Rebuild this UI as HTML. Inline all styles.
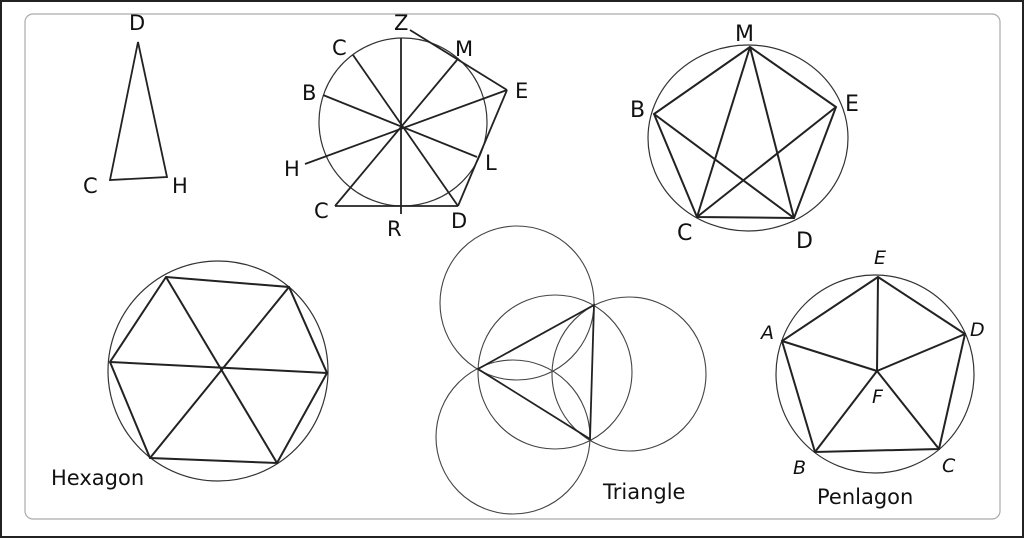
<!DOCTYPE html>
<html><head><meta charset="utf-8"><style>
html,body{margin:0;padding:0;background:#fff;}
svg{display:block;}
text{font-family:"DejaVu Sans","Liberation Sans",sans-serif;fill:#111;}
</style></head><body>
<svg width="1024" height="538" viewBox="0 0 1024 538" xmlns="http://www.w3.org/2000/svg">
<rect x="1" y="1" width="1022" height="536" fill="#fff" stroke="#222" stroke-width="2"/>
<rect x="25" y="14" width="975" height="505" rx="8" fill="none" stroke="#aaa" stroke-width="1.2"/>

<g fill="none" stroke="#222" stroke-width="1.8">
<polygon points="138,42 110,180 167,177"/>
</g>
<g font-size="21">
<text x="129" y="30">D</text><text x="83" y="193">C</text><text x="172" y="193">H</text>
</g>

<g fill="none" stroke="#333">
<circle cx="403" cy="122" r="84" stroke-width="1.2"/>
<g stroke-width="1.8" stroke="#222">
<line x1="401" y1="38" x2="401" y2="214"/>
<line x1="410" y1="30" x2="507" y2="90"/>
<line x1="507" y1="90" x2="458" y2="206"/>
<line x1="335" y1="206" x2="458" y2="206"/>
<line x1="353" y1="55" x2="458" y2="206"/>
<line x1="323" y1="95" x2="477" y2="157"/>
<line x1="457" y1="60" x2="335" y2="206"/>
<line x1="305" y1="164" x2="507" y2="90"/>
</g></g>
<g font-size="21">
<text x="394" y="30">Z</text><text x="332" y="55">C</text><text x="455" y="56">M</text>
<text x="302" y="100">B</text><text x="515" y="98">E</text><text x="284" y="176">H</text>
<text x="485" y="170">L</text><text x="314" y="218">C</text><text x="387" y="236">R</text>
<text x="451" y="228">D</text>
</g>

<g fill="none" stroke="#333">
<ellipse cx="748" cy="138" rx="100" ry="93" stroke-width="1.2"/>
<g stroke-width="2" stroke="#222">
<polygon points="750,47 654,114 697,217 794,218 836,107"/>
<line x1="750" y1="47" x2="697" y2="217"/>
<line x1="750" y1="47" x2="794" y2="218"/>
<line x1="654" y1="114" x2="794" y2="218"/>
<line x1="836" y1="107" x2="697" y2="217"/>
</g></g>
<g font-size="22">
<text x="735" y="41">M</text><text x="630" y="117">B</text><text x="845" y="111">E</text>
<text x="677" y="240">C</text><text x="796" y="248">D</text>
</g>

<g fill="none" stroke="#333">
<circle cx="218" cy="371" r="110" stroke-width="1.2"/>
<g stroke-width="2" stroke="#222">
<polygon points="166,277 289,287 327,373 277,463 150,458 110,362"/>
<line x1="166" y1="277" x2="277" y2="463"/>
<line x1="289" y1="287" x2="150" y2="458"/>
<line x1="110" y1="362" x2="327" y2="373"/>
</g></g>
<text x="51" y="485" font-size="21">Hexagon</text>

<g fill="none" stroke="#444" stroke-width="1.1">
<circle cx="517" cy="303" r="77"/>
<circle cx="555" cy="372" r="77"/>
<circle cx="629" cy="374" r="77"/>
<circle cx="513" cy="437" r="77"/>
</g>
<polygon points="478,369 594,305 590,439" fill="none" stroke="#222" stroke-width="1.8"/>
<text x="603" y="499" font-size="21">Triangle</text>

<g fill="none" stroke="#333">
<circle cx="875" cy="374" r="99" stroke-width="1.2"/>
<g stroke-width="2" stroke="#222">
<polygon points="878,277 782,341 815,452 939,449 965,334"/>
<line x1="877" y1="371" x2="878" y2="277"/>
<line x1="877" y1="371" x2="782" y2="341"/>
<line x1="877" y1="371" x2="815" y2="452"/>
<line x1="877" y1="371" x2="939" y2="449"/>
<line x1="877" y1="371" x2="965" y2="334"/>
</g></g>
<g font-size="19" font-style="italic">
<text x="874" y="264">E</text><text x="761" y="339">A</text><text x="970" y="336">D</text>
<text x="872" y="403">F</text><text x="793" y="474">B</text><text x="942" y="472">C</text>
</g>
<text x="817" y="504" font-size="21">Penlagon</text>
</svg>
</body></html>
